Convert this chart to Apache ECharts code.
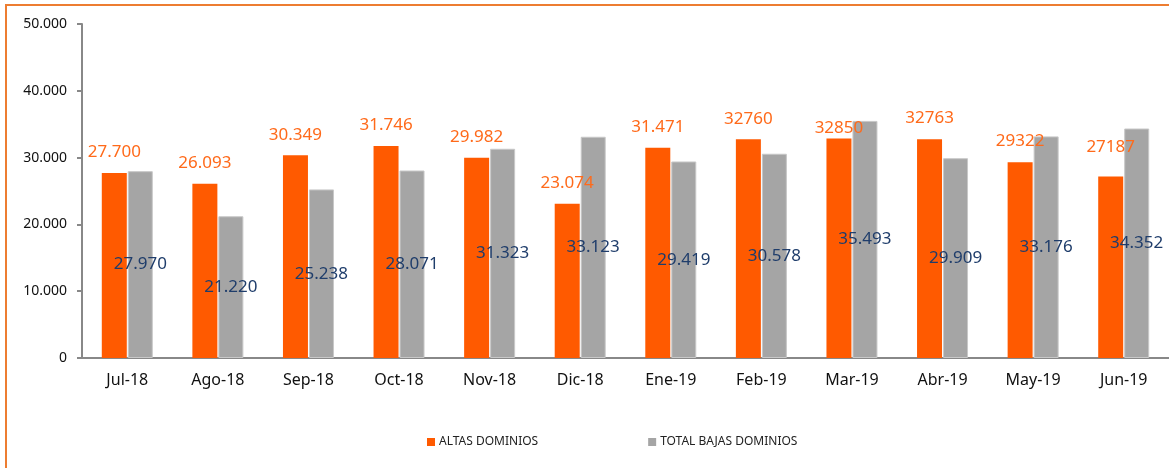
<!DOCTYPE html>
<html>
<head>
<meta charset="utf-8">
<script src="https://cdn.jsdelivr.net/npm/echarts@6/dist/echarts.min.js"></script>
<style>
  html, body { margin: 0; padding: 0; background: #fff; }
  #chart { width: 1169px; height: 468px; }
</style>
</head>
<body>
<div id="chart"></div>
<script>
var meses = ['Jul-18','Ago-18','Sep-18','Oct-18','Nov-18','Dic-18','Ene-19','Feb-19','Mar-19','Abr-19','May-19','Jun-19'];
var altas = [27700, 26093, 30349, 31746, 29982, 23074, 31471, 32760, 32850, 32763, 29322, 27187];
var altasTxt = ['27.700','26.093','30.349','31.746','29.982','23.074','31.471','32760','32850','32763','29322','27187'];
var bajas = [27970, 21220, 25238, 28071, 31323, 33123, 29419, 30578, 35493, 29909, 33176, 34352];
var bajasTxt = ['27.970','21.220','25.238','28.071','31.323','33.123','29.419','30.578','35.493','29.909','33.176','34.352'];
var yTicks = ['0','10.000','20.000','30.000','40.000','50.000'];

var fuente = "'Noto Sans', sans-serif";
var chart = echarts.init(document.getElementById('chart'));

// etiquetas movidas a mano en el original (Mar-19 mas abajo, Jun-19 mas arriba)
var distEtiqueta = { 8: 2, 11: 21 };
var altasData = altas.map(function (v, i) {
    if (distEtiqueta[i] === undefined) return v;
    return { value: v, label: { distance: distEtiqueta[i] } };
});

var option = {
    animation: false,
    textStyle: { fontFamily: fuente },
    graphic: [{
        type: 'rect',
        shape: { x: 6, y: 5, width: 1300, height: 600 },
        style: { fill: 'none', stroke: '#ED7D31', lineWidth: 2 }
    }],
    grid: {
        left: 82,
        top: 24,
        width: 1092,
        bottom: 110
    },
    legend: {
        top: 431,
        left: 422,
        itemWidth: 8,
        itemHeight: 8,
        itemGap: 110,
        icon: 'rect',
        itemStyle: { borderWidth: 0 },
        textStyle: { fontSize: 12, color: '#222', fontFamily: fuente, padding: [0, 0, 0, -1] },
        data: ['ALTAS DOMINIOS', 'TOTAL BAJAS DOMINIOS']
    },
    xAxis: {
        type: 'category',
        data: meses,
        axisLine: { lineStyle: { color: '#888', width: 2 } },
        axisTick: { length: 5, lineStyle: { color: '#888', width: 2 } },
        axisLabel: { color: '#111', fontSize: 16, margin: 14 }
    },
    yAxis: {
        type: 'value',
        min: 0,
        max: 50000,
        interval: 10000,
        splitLine: { show: false },
        axisLine: { show: true, lineStyle: { color: '#888', width: 2 } },
        axisTick: { show: true, length: 5, lineStyle: { color: '#888', width: 2 } },
        axisLabel: {
            color: '#111',
            fontSize: 14,
            margin: 15,
            formatter: function (v) { return yTicks[Math.round(v / 10000)]; }
        }
    },
    series: [
        {
            name: 'ALTAS DOMINIOS',
            type: 'bar',
            barWidth: 25,
            barGap: '4%',
            itemStyle: { color: '#FF5A00' },
            label: {
                show: true,
                position: 'top',
                distance: 12,
                color: '#FF6A1A',
                fontSize: 17,
                formatter: function (p) { return altasTxt[p.dataIndex]; }
            },
            data: altasData
        },
        {
            name: 'TOTAL BAJAS DOMINIOS',
            type: 'bar',
            barWidth: 25,
            itemStyle: { color: '#A5A5A5', borderColor: '#C8C8C8', borderWidth: 1 },
            label: {
                show: true,
                position: 'inside',
                color: '#1F3D6B',
                fontSize: 17,
                formatter: function (p) { return bajasTxt[p.dataIndex]; }
            },
            data: bajas
        }
    ]
};

chart.setOption(option);
</script>
</body>
</html>
